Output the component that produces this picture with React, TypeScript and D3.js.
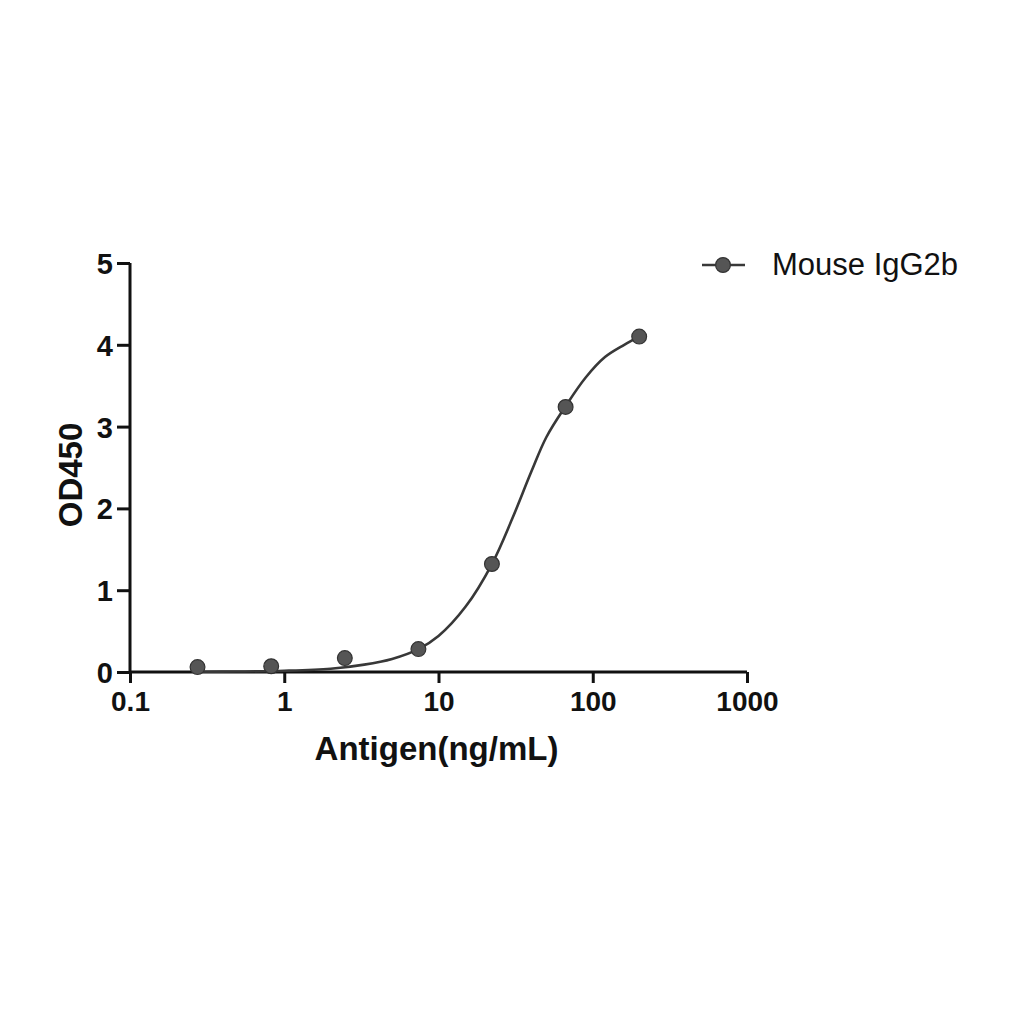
import { useRef, useEffect } from "react";
import * as d3 from "d3";

// measured points (ng/mL vs OD450)
const concentrations = [0.274, 0.823, 2.47, 7.41, 22.2, 66.7, 200];
const odValues = [0.06, 0.07, 0.17, 0.28, 1.32, 3.24, 4.1];

// fitted curve
const curveX = [0.274, 0.5, 1, 2, 3.3, 5, 7.41, 10, 15, 22.2, 30, 40, 50, 66.7, 90, 120, 160, 200];
const curveY = [0.003, 0.006, 0.015, 0.04, 0.09, 0.16, 0.28, 0.44, 0.8, 1.32, 1.87, 2.45, 2.87, 3.25, 3.6, 3.85, 4.0, 4.1];

const xTicks = [0.1, 1, 10, 100, 1000];
const xTickLabels = ["0.1", "1", "10", "100", "1000"];
const yTicks = [0, 1, 2, 3, 4, 5];

const seriesName = "Mouse IgG2b";

const App = () => {
  const svgRef = useRef<SVGSVGElement>(null);
  const width = 1024;
  const height = 1024;

  useEffect(() => {
    const svg = d3.select(svgRef.current);
    svg.selectAll("*").remove();

    const FONT = "'Liberation Sans', Arial, Helvetica, sans-serif";
    const ink = "#111";
    const markFill = "#555";
    const lineColor = "#383838";

    const x = d3.scaleLog().domain([0.1, 1000]).range([130, 747]);
    const y = d3.scaleLinear().domain([0, 5]).range([672, 263]);

    svg.append("rect").attr("width", width).attr("height", height).attr("fill", "#fff");

    // y axis
    const yAxis = svg
      .append("g")
      .attr("transform", "translate(130,0)")
      .call(d3.axisLeft(y).tickValues(yTicks).tickSize(13).tickPadding(4).tickFormat(d3.format("d")) as any);
    yAxis.select(".domain").attr("stroke", ink).attr("stroke-width", 3).attr("d", `M0,${y(5)}V${y(0)}`);
    yAxis.selectAll(".tick line").attr("stroke", ink).attr("stroke-width", 3);
    yAxis
      .selectAll(".tick text")
      .attr("fill", ink)
      .attr("font-family", FONT)
      .attr("font-weight", "bold")
      .attr("font-size", 29)
      .attr("dy", "0.36em");

    // x axis
    const xAxis = svg
      .append("g")
      .attr("transform", "translate(0,672)")
      .call(
        d3
          .axisBottom(x)
          .tickValues(xTicks)
          .tickSize(11)
          .tickPadding(8)
          .tickFormat((_d, i) => xTickLabels[i]) as any
      );
    xAxis.select(".domain").attr("stroke", ink).attr("stroke-width", 3).attr("d", `M${x(0.1)},0H${x(1000)}`);
    xAxis.selectAll(".tick line").attr("stroke", ink).attr("stroke-width", 3);
    xAxis
      .selectAll(".tick text")
      .attr("fill", ink)
      .attr("font-family", FONT)
      .attr("font-weight", "bold")
      .attr("font-size", 28)
      .attr("dy", "0.71em");

    // axis titles
    svg
      .append("text")
      .attr("x", (x(0.1) + x(1000)) / 2 - 2)
      .attr("y", 760)
      .attr("text-anchor", "middle")
      .attr("font-family", FONT)
      .attr("font-weight", "bold")
      .attr("font-size", 33)
      .attr("fill", ink)
      .text("Antigen(ng/mL)");

    svg
      .append("text")
      .attr("transform", "translate(82,475) rotate(-90)")
      .attr("text-anchor", "middle")
      .attr("font-family", FONT)
      .attr("font-weight", "bold")
      .attr("font-size", 33)
      .attr("fill", ink)
      .text("OD450");

    // fitted curve
    const line = d3
      .line<number>()
      .x((d) => x(d))
      .y((_d, i) => y(curveY[i]))
      .curve(d3.curveCatmullRom.alpha(0.5));
    svg
      .append("path")
      .attr("d", line(curveX))
      .attr("fill", "none")
      .attr("stroke", lineColor)
      .attr("stroke-width", 2.6);

    // points
    svg
      .selectAll("circle.pt")
      .data(concentrations)
      .enter()
      .append("circle")
      .attr("class", "pt")
      .attr("cx", (d) => x(d))
      .attr("cy", (_d, i) => y(odValues[i]))
      .attr("r", 7.4)
      .attr("fill", markFill)
      .attr("stroke", "#333")
      .attr("stroke-width", 1.2);

    // legend
    const lg = svg.append("g").attr("transform", "translate(702,265)");
    lg.append("line").attr("x1", 0).attr("x2", 43).attr("stroke", lineColor).attr("stroke-width", 2.6);
    lg.append("circle")
      .attr("cx", 21)
      .attr("r", 7.4)
      .attr("fill", markFill)
      .attr("stroke", "#333")
      .attr("stroke-width", 1.2);
    lg.append("text")
      .attr("x", 70)
      .attr("y", 10)
      .attr("font-family", FONT)
      .attr("font-size", 31)
      .attr("fill", ink)
      .text(seriesName);
  }, []);

  return (
    <svg
      ref={svgRef}
      width={width}
      height={height}
      style={{ position: "absolute", left: 0, top: 0 }}
    />
  );
};

export default App;
